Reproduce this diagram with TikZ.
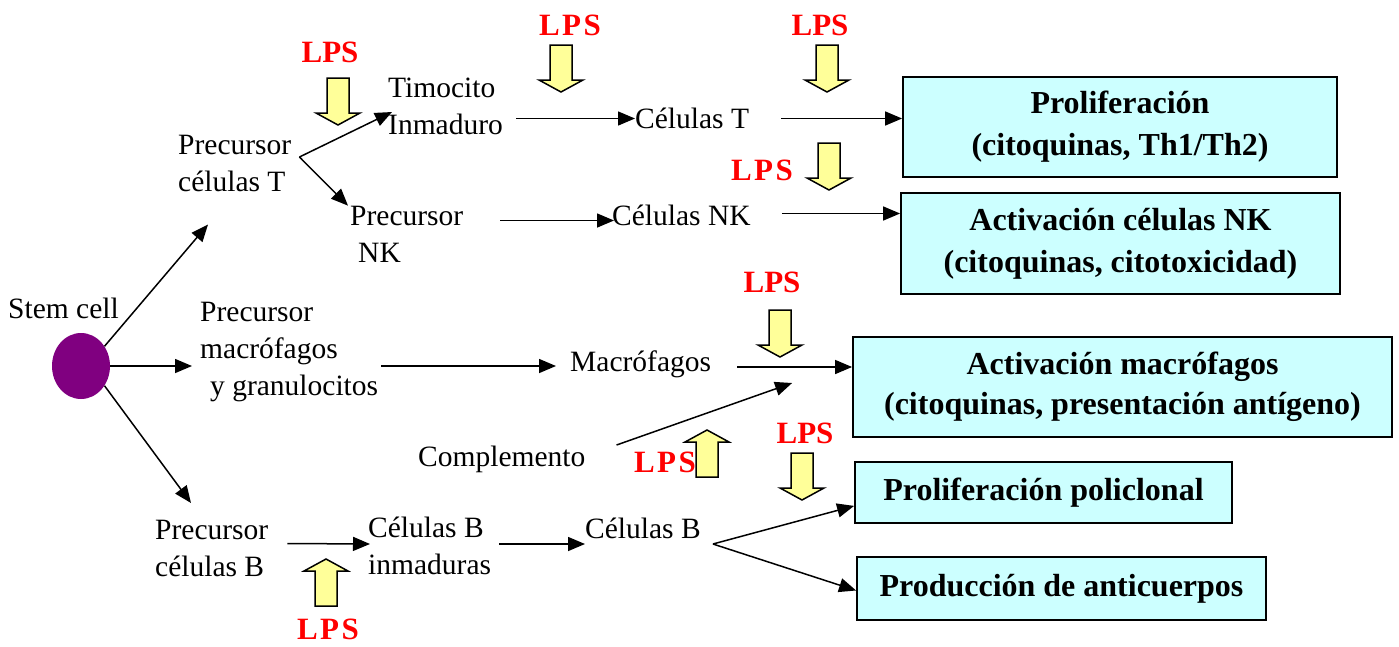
\documentclass[tikz,border=0pt]{standalone}
\usepackage{fontspec}
\setmainfont{Liberation Serif}
\usetikzlibrary{arrows.meta,calc,shapes.geometric}
\definecolor{boxcyan}{HTML}{CCFFFF}
\definecolor{lpsyellow}{HTML}{FFFF99}
\definecolor{stempurple}{HTML}{800080}

\begin{document}
\begin{tikzpicture}[x=1pt,y=-1pt]

  \useasboundingbox (0,0) rectangle (1399,646);

  % node styles
  \tikzstyle{Cell}=[anchor=west,inner sep=0pt,align=left,
  font=\fontsize{29.5}{37}\selectfont]
  \tikzstyle{Box}=[draw,line width=1.8pt,fill=boxcyan,align=center,
  inner sep=0pt,font=\fontsize{32}{42}\selectfont\bfseries]
  \tikzstyle{Lps}=[inner sep=0pt,text=red,font=\fontsize{31}{36}\selectfont\bfseries]
  \tikzstyle{LpsW}=[Lps,font=\fontsize{31}{36}\selectfont\bfseries\addfontfeatures{LetterSpace=8}]
  \tikzstyle{Arr}=[line width=1.5pt,-{Triangle[length=17pt,width=14pt]}]
  \tikzstyle{Fat}=[draw,line width=1.5pt,fill=lpsyellow,line join=miter]

  % yellow LPS arrow, origin at the tail
  \tikzset{pics/lps/.style={code={
    \path[Fat] (-11,0) -- (11,0) -- (11,35) -- (22,35) -- (0,47)
      -- (-22,35) -- (-11,35) -- cycle;}}}

  % cells
  \node[Cell] (SC) at (8,308) {Stem cell};
  \node[ellipse,fill=stempurple,minimum width=58,minimum height=66,inner sep=0pt] (E) at (81,366) {};

  \node[Cell] (PT) at (178,163) {Precursor\\células T};
  \node[Cell] (TI) at (388,106) {Timocito\\Inmaduro};
  \node[Cell] (PN) at (350,234) {Precursor\\\hspace*{8pt}NK};
  \node[Cell] (CT) at (635,118.5) {Células T};
  \node[Cell] (CN) at (612,215.5) {Células NK};
  \node[Cell] (PM) at (200,352) {Precursor\\macrófagos\\\hspace*{10pt}y granulocitos};
  \node[Cell] (M)  at (570,364) {Macrófagos};
  \node[Cell] (C)  at (418,459) {Complemento};
  \node[Cell] (PB) at (155,548.5) {Precursor\\células B};
  \node[Cell] (BI) at (368,545.5) {Células B\\inmaduras};
  \node[Cell] (B)  at (585,528) {Células B};

  % outcomes
  \node[Box,minimum width=434,minimum height=100] (O1) at (1120,127) {Proliferación\\(citoquinas, Th1/Th2)};
  \node[Box,minimum width=439,minimum height=101] (O2) at (1120.5,243.5) {Activación células NK\\(citoquinas, citotoxicidad)};
  \node[Box,minimum width=539,minimum height=100,font=\fontsize{32}{40}\selectfont\bfseries] (O3) at (1122.5,387) {Activación macrófagos\\(citoquinas, presentación antígeno)};
  \node[Box,minimum width=377,minimum height=61] (O4) at (1043.5,492.5) {Proliferación policlonal};
  \node[Box,minimum width=409,minimum height=63] (O5) at (1061.5,588.5) {Producción de anticuerpos};

  % LPS
  \node[Lps]  (L1) at (330,52)  {LPS};  \pic at (338,78)  {lps};
  \node[LpsW] (L2) at (570,25)  {LPS};  \pic at (561,45)  {lps};
  \node[Lps]  (L3) at (820,25)  {LPS};  \pic at (827,45)  {lps};
  \node[LpsW] (L4) at (762,170) {LPS};  \pic at (829,143) {lps};
  \node[Lps]  (L5) at (772,282) {LPS};  \pic at (780,310) {lps};
  \node[LpsW] (L6) at (665,462) {LPS};  \pic[rotate=180] at (707,477) {lps};
  \node[Lps]  (L7) at (805,433) {LPS};  \pic at (802,453) {lps};
  \node[LpsW] (L8) at (328,629) {LPS};  \pic[rotate=180] at (326,606) {lps};

  % connectors
  \coordinate (V) at ($(PT.east)+(8,-6)$);
  \coordinate (W) at ($(B.east)+(12,16)$);

  \draw[Arr] (E.40) -- ($(PT.south west)+(30,33)$);
  \draw[Arr] (E.east) -- ($(PM.west)+(-8,14)$);
  \draw[Arr] (E.-40) -- ($(PB.north west)+(36,-17)$);

  \draw[Arr] (V) -- ($(TI.west)+(4,6)$);
  \draw[Arr] (V) -- ($(PN.north west)+(-2,0)$);
  \draw[Arr] ($(TI.east |- CT.west)+(13,0)$) -- (CT.west);
  \draw[Arr] ($(CT.east)+(32,0)$) -- (CT.east -| O1.west);
  \draw[Arr] ($(PN.east |- CN.west)+(37,5)$) -- ($(CN.west)+(2,5)$);
  \draw[Arr] ($(CN.east)+(31,-2)$) -- ($(CN.east -| O2.west)+(0,-2)$);

  \draw[Arr] ($(PM.east |- M.west)+(3,2)$) -- ($(M.west)+(-14,2)$);
  \draw[Arr] ($(M.east)+(26,3)$) -- ($(M.east -| O3.west)+(0,3)$);
  \draw[Arr] ($(C.east)+(31,-14)$) -- ($(O3.west)+(-60,-4)$);

  \draw[Arr] ($(PB.east)+(19,-5)$) -- ($(BI.west)+(2,-1.5)$);
  \draw[Arr] ($(BI.east)+(8,-1.5)$) -- ($(B.west)+(0,16)$);
  \draw[Arr] (W) -- ($(O4.south west)+(0,-18)$);
  \draw[Arr] (W) -- ($(O5.west)+(0,2)$);

\end{tikzpicture}
\end{document}
